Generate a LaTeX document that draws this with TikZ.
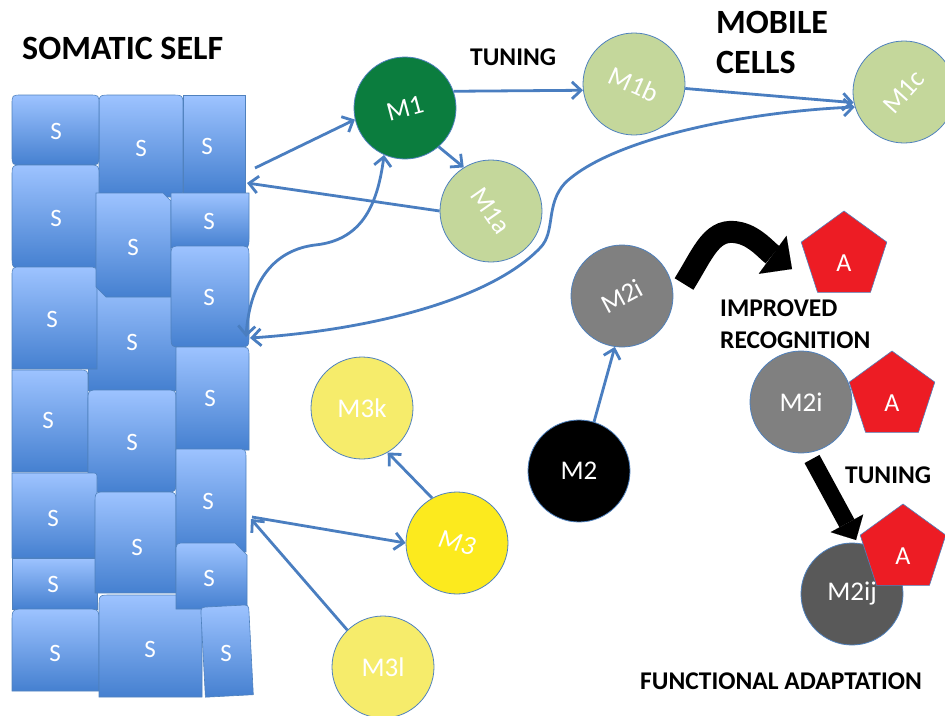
\documentclass[tikz,border=0pt]{standalone}
\usepackage{fontspec}
\setmainfont{Carlito}
\usetikzlibrary{arrows.meta,shapes.geometric}

\definecolor{linkblue}{HTML}{4A7EC0}
\definecolor{edgeblue}{HTML}{4F81BD}
\definecolor{celltop}{HTML}{9DC3FF}
\definecolor{cellbot}{HTML}{4580D0}
\definecolor{mgreen}{HTML}{0B7D3E}
\definecolor{mpale}{HTML}{C4D79B}
\definecolor{mgray}{HTML}{808080}
\definecolor{mdark}{HTML}{595959}
\definecolor{ypale}{HTML}{F6EC6B}
\definecolor{ybright}{HTML}{FCEA1E}
\definecolor{agred}{HTML}{ED1C24}

% one tissue cell: x1,y1,x2,y2 and corner radii TL,TR,BR,BL
\newcommand\cellblock[8]{%
  \path[cell] ({#1+#5},#2) -- ({#3-#6},#2) .. controls (#3,#2) .. (#3,{#2+#6})
    -- (#3,{#4-#7}) .. controls (#3,#4) .. ({#3-#7},#4)
    -- ({#1+#8},#4) .. controls (#1,#4) .. (#1,{#4-#8})
    -- (#1,{#2+#5}) .. controls (#1,#2) .. ({#1+#5},#2) -- cycle;}

\begin{document}
\begin{tikzpicture}[x=1pt,y=-1pt,
  cell/.style={draw=edgeblue,line width=0.6pt,top color=celltop,bottom color=cellbot},
  slabel/.style={text=white,inner sep=0pt,font=\fontsize{25}{25}\selectfont},
  mcell/.style={circle,draw=edgeblue,line width=0.8pt,minimum size=102pt,inner sep=0pt},
  mtext/.style={text=white,inner sep=0pt,font=\fontsize{27}{27}\selectfont},
  antigen/.style={regular polygon,regular polygon sides=5,minimum size=90pt,inner sep=0pt,
    fill=agred,draw=edgeblue,line width=0.6pt},
  atext/.style={text=white,inner sep=0pt,font=\fontsize{26}{26}\selectfont},
  link/.style={draw=linkblue,line width=2.8pt,-{Straight Barb[length=9pt,width=17pt]}},
  biglink/.style={draw=linkblue,line width=2.8pt,
    {Straight Barb[length=9pt,width=17pt]}-{Straight Barb[length=9pt,width=17pt]}},
  curvedpush/.style={draw=black,line width=22pt,
    -{Triangle[length=24pt,width=47pt,line width=0.01pt]}},
  straightpush/.style={draw=black,line width=17pt,
    -{Triangle[length=19pt,width=37pt,line width=0.01pt]}},
  heading/.style={anchor=west,inner sep=0pt,text=black,font=\bfseries\fontsize{25.5}{25.5}\selectfont},
  bigheading/.style={anchor=west,inner sep=0pt,text=black,font=\bfseries\fontsize{34}{34}\selectfont}
]
\useasboundingbox (0,0) rectangle (945,715);

% ---------- somatic tissue ----------
\cellblock{183}{95}{245}{193}{0}{0}{0}{0}
\cellblock{99}{95}{183}{197}{12}{12}{12}{12}
\cellblock{12}{95}{99}{165}{10}{10}{10}{10}
\cellblock{12}{165}{99}{268}{12}{12}{12}{12}
\cellblock{88}{280}{176}{390}{0}{0}{0}{0}
\cellblock{12}{267}{97}{369}{10}{10}{0}{0}
\cellblock{12}{370}{88}{472}{0}{10}{0}{0}
\path[cell] (96,193) -- (163,193) -- (171,201) -- (171,297) -- (106,297) -- (96,287) -- cycle;
\cellblock{88}{390}{176}{492}{12}{12}{12}{12}
\cellblock{12}{473}{97}{558}{0}{6}{0}{0}
\cellblock{12}{558}{97}{609}{0}{0}{0}{0}
\cellblock{95}{492}{176}{593}{12}{12}{0}{0}
\cellblock{12}{609}{99}{691}{14}{14}{0}{0}
\cellblock{99}{595}{202}{697}{12}{12}{0}{0}
\cellblock{171}{193}{249}{248}{0}{0}{10}{0}
\cellblock{171}{246}{249}{347}{12}{12}{12}{12}
\cellblock{176}{347}{249}{450}{0}{10}{0}{0}
\cellblock{176}{449}{246}{552}{0}{10}{0}{0}
\path[cell] (176,553) .. controls (176,543) .. (186,543) -- (235,543) -- (247,555)
  -- (247,609) -- (176,609) -- cycle;
\begin{scope}[rotate around={3:(227,651)}]
  \cellblock{203}{606}{251}{696}{8}{8}{0}{0}
\end{scope}

\node[slabel] (s1) at (56,131) {S};
\node[slabel] (s2) at (56,218) {S};
\node[slabel] (s3) at (52,319) {S};
\node[slabel] (s4) at (48,420) {S};
\node[slabel] (s5) at (53,518) {S};
\node[slabel] (s6) at (53,584) {S};
\node[slabel] (s7) at (55,653) {S};
\node[slabel] (s8) at (141,148) {S};
\node[slabel] (s9) at (133,247) {S};
\node[slabel] (s10) at (132,342) {S};
\node[slabel] (s11) at (132,442) {S};
\node[slabel] (s12) at (137,547) {S};
\node[slabel] (s13) at (150,649) {S};
\node[slabel] (s14) at (207,146) {S};
\node[slabel] (s15) at (209,221) {S};
\node[slabel] (s16) at (209,297) {S};
\node[slabel] (s17) at (210,398) {S};
\node[slabel] (s18) at (208,501) {S};
\node[slabel] (s19) at (209,578) {S};
\node[slabel] (s20) at (226,653) {S};

% ---------- mobile cells ----------
\node[mcell,fill=mgreen] (m1) at (405,108) {};
\node[mcell,fill=mpale] (m1a) at (491,211) {};
\node[mcell,fill=mpale] (m1b) at (634,84) {};
\node[mcell,fill=mpale] (m1c) at (904,92) {};
\node[mcell,fill=mgray] (m2ia) at (622,296) {};
\node[mcell,fill=black] (m2) at (579,471) {};
\node[mcell,fill=mgray] (m2ib) at (801,402) {};
\node[mcell,fill=mdark] (m2ij) at (852,594) {};
\node[mcell,fill=ypale] (m3k) at (362,408) {};
\node[mcell,fill=ybright] (m3) at (457,543) {};
\node[mcell,fill=ypale] (m3l) at (383,667) {};

\node[mtext,rotate=15] (m1t) at (m1) {M1};
\node[mtext,rotate=-55] (m1at) at (m1a) {M1a};
\node[mtext,rotate=-24] (m1bt) at (m1b) {M1b};
\node[mtext,rotate=48] (m1ct) at (m1c) {M1c};
\node[mtext,rotate=28] (m2iat) at (m2ia) {M2i};
\node[mtext] (m2t) at (m2) {M2};
\node[mtext] (m2ibt) at (m2ib) {M2i};
\node[mtext] (m2ijt) at (m2ij) {M2ij};
\node[mtext] (m3kt) at (m3k) {M3k};
\node[mtext,rotate=-14,font=\itshape\fontsize{27}{27}\selectfont] (m3t) at (m3) {M3};
\node[mtext] (m3lt) at (m3l) {M3l};

% ---------- antigens ----------
\node[antigen] (a1) at (844,256) {};
\node[antigen] (a2) at (892,396) {};
\node[antigen] (a3) at (903,549) {};
\node[atext] (a1t) at ([yshift=-7pt]a1.center) {A};
\node[atext] (a2t) at ([yshift=-7pt]a2.center) {A};
\node[atext] (a3t) at ([yshift=-7pt]a3.center) {A};

% ---------- headings ----------
\node[bigheading] (tsoma) at (22,48) {SOMATIC SELF};
\node[heading] (ttun1) at (470,57) {TUNING};
\node[bigheading] (tmob) at (716,22) {MOBILE};
\node[bigheading] (tcel) at (716,62) {CELLS};
\node[heading] (timp) at (720,308) {IMPROVED};
\node[heading] (trec) at (720,340) {RECOGNITION};
\node[heading] (ttun2) at (845,475) {TUNING};
\node[heading] (tfun) at (640,681) {FUNCTIONAL ADAPTATION};

% ---------- free ends on the tissue ----------
\coordinate (p1) at (255,168);
\coordinate (p2) at (247,183);
\coordinate (p3) at (250,338);
\coordinate (p4) at (246,337);
\coordinate (p5) at (252,517);
\coordinate (p6) at (251,519);

% ---------- interactions ----------
\draw[link] (p1) -- (m1.193);
\draw[link] (m1a.180) -- (p2);
\draw[link] (m1.-49) -- (m1a.122);
\draw[link] (m1.19) -- (m1b.187);
\draw[link] (m1b.-5) -- (m1c.192);
\draw[biglink] (p3) .. controls (370,330) and (490,300) .. (540,248)
  .. controls (556,232) and (545,205) .. (565,183)
  .. controls (610,140) and (740,112) .. (m1c.197);
\draw[biglink] (p4) .. controls (250,280) and (275,250) .. (315,245)
  .. controls (365,240) and (378,200) .. (m1.246);
\draw[link] (m2.73) -- (m2ia.262);
\draw[link] (m3.119) -- (m3k.-60);
\draw[link] (p5) -- (m3.180);
\draw[link] (m3l.134) -- (p6);

% ---------- recognition and tuning ----------
\coordinate (k1) at (684,284);
\coordinate (k2) at (792,269);
\draw[curvedpush] (k1) .. controls (704,252) and (712,226) .. (740,233)
  .. controls (756,237) and (766,250) .. (k2);
\coordinate (k3) at (812,459);
\coordinate (k4) at (856,540);
\draw[straightpush] (k3) -- (k4);
\end{tikzpicture}
\end{document}
